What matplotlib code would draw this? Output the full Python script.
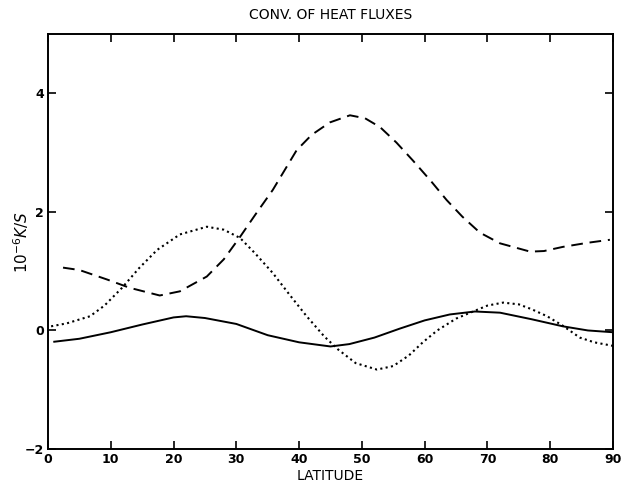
import numpy as np
import matplotlib.pyplot as plt

# Convergence of heat fluxes vs latitude (three curves, units 1e-6 K/s)
lat_solid = [1, 5, 10, 15, 20, 22, 25, 30, 35, 40, 45, 48, 52, 56, 60, 64,
             68, 72, 77, 82, 86, 90]
val_solid = [-0.19, -0.14, -0.03, 0.10, 0.22, 0.24, 0.21, 0.11, -0.08, -0.20,
             -0.27, -0.23, -0.12, 0.03, 0.17, 0.27, 0.32, 0.30, 0.19, 0.07,
             0.00, -0.03]

lat_dot = [0.5, 3, 6.7, 9, 11.8, 14.5, 17.4, 21, 25.3, 28, 30.6, 33, 35.8,
           38.5, 41.2, 44, 46.2, 49, 52.4, 55, 57.5, 59.7, 62, 65, 67.7, 70,
           72.5, 75, 77, 79.5, 82, 84.7, 87, 90]
val_dot = [0.07, 0.12, 0.24, 0.42, 0.72, 1.05, 1.36, 1.62, 1.75, 1.70, 1.56,
           1.30, 0.97, 0.60, 0.24, -0.10, -0.32, -0.55, -0.66, -0.60, -0.42,
           -0.20, 0.00, 0.20, 0.32, 0.42, 0.47, 0.44, 0.36, 0.24, 0.08,
           -0.12, -0.20, -0.26]

lat_dash = [2.4, 5, 9.4, 13, 17.8, 21, 25.3, 28, 30.6, 33, 35.8, 39.6, 42,
            44.9, 48.1, 50.5, 52.9, 55.5, 58.1, 61, 63.5, 66, 68.8, 72, 76.8,
            79, 82, 86, 89.5]
val_dash = [1.06, 1.02, 0.86, 0.72, 0.59, 0.66, 0.91, 1.20, 1.58, 1.95, 2.37,
            3.04, 3.30, 3.51, 3.63, 3.58, 3.43, 3.17, 2.87, 2.52, 2.20, 1.92,
            1.65, 1.47, 1.33, 1.34, 1.41, 1.48, 1.53]

xticks = np.arange(0, 91, 10)
yticks = [-2, 0, 2, 4]

fig = plt.figure(figsize=(6.23, 4.87), dpi=100)
ax = fig.add_axes([0.077, 0.078, 0.907, 0.852])

ax.plot(lat_solid, val_solid, color="black", lw=1.4)
ax.plot(lat_dot, val_dot, color="black", lw=1.5, linestyle=(0, (1, 1.6)))
ax.plot(lat_dash, val_dash, color="black", lw=1.4, linestyle=(0, (6, 3.5)))

ax.set_xlim(0, 90)
ax.set_ylim(-2, 5)
ax.set_xticks(xticks)
ax.set_yticks(yticks)
ax.tick_params(direction="in", top=True, right=True, length=6, width=1.2,
               labelsize=9, pad=3)
for lbl in ax.get_xticklabels() + ax.get_yticklabels():
    lbl.set_fontweight("bold")
for sp in ax.spines.values():
    sp.set_linewidth(1.4)

ax.set_title("CONV. OF HEAT FLUXES", fontsize=10, pad=11, fontweight="medium")
ax.set_xlabel("LATITUDE", fontsize=10, labelpad=2)
ax.set_ylabel(r"$10^{-6}K/S$", fontsize=11, family="serif")
ax.yaxis.set_label_coords(-0.03, 0.5)

fig.savefig("out.png", dpi=100)
